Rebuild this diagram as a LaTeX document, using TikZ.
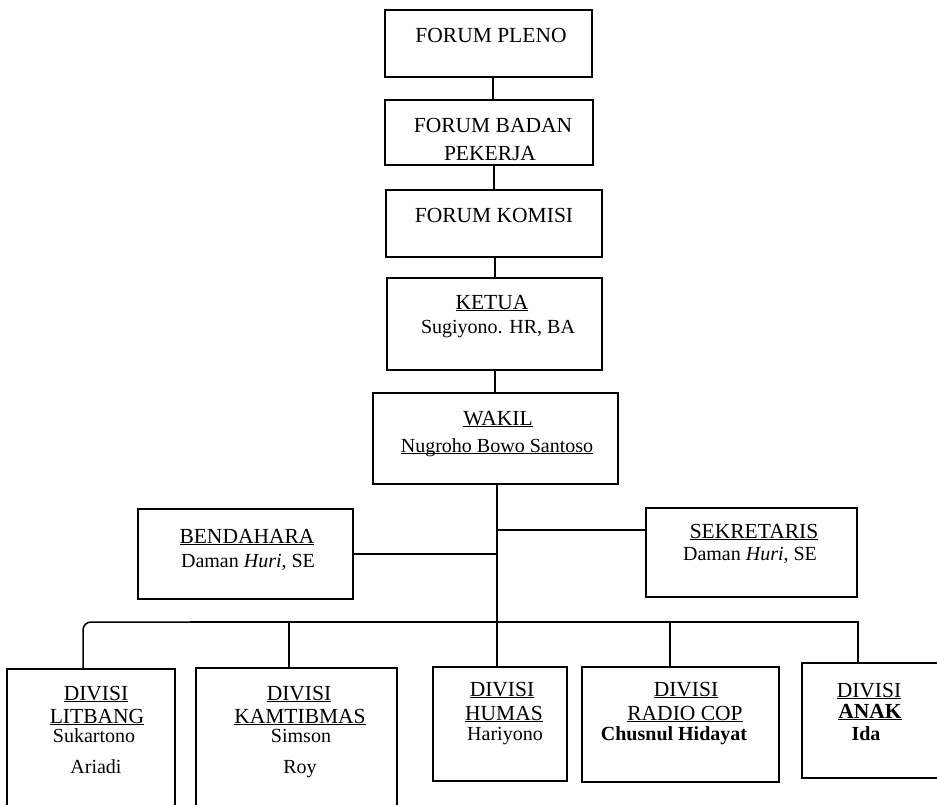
\documentclass[tikz,border=0pt]{standalone}
\usepackage{fontspec}
\setmainfont{Liberation Serif}
\newcommand\hdrf{\fontsize{21.5}{24}\selectfont}
\newcommand\namef{\fontsize{20}{22}\selectfont}
\newcommand\ulx[1]{\setbox0\hbox{#1}\rlap{\rule[-2.4pt]{\wd0}{1.2pt}}\box0}
\tikzset{
  box/.style={draw, line width=1.5pt, rectangle, inner sep=0pt},
  link/.style={line width=1.5pt},
  hd/.style={inner sep=0pt, anchor=base, font=\hdrf},
  nmt/.style={inner sep=0pt, anchor=base, font=\namef},
}
\begin{document}
\begin{tikzpicture}[x=1pt,y=-1pt]
\useasboundingbox[fill=white] (0,0) rectangle (937,804);
% boxes
\node[box, minimum width=207pt, minimum height=67pt] (pleno) at (488.5,43.5) {};
\node[box, minimum width=208pt, minimum height=65pt] (badan) at (489,132.5) {};
\node[box, minimum width=216pt, minimum height=67pt] (komisi) at (494,223.5) {};
\node[box, minimum width=215pt, minimum height=92pt] (ketua) at (494.5,324) {};
\node[box, minimum width=245pt, minimum height=91pt] (wakil) at (495.5,438.5) {};
\node[box, minimum width=215pt, minimum height=90pt] (bend) at (245.5,554) {};
\node[box, minimum width=211pt, minimum height=89pt] (sekr) at (751.5,552.5) {};
\node[box, minimum width=168pt, minimum height=150pt] (litbang) at (91,744) {};
\node[box, minimum width=201pt, minimum height=151pt] (kamt) at (296.5,743.5) {};
\node[box, minimum width=134pt, minimum height=114pt] (humas) at (500,724) {};
\node[box, minimum width=197pt, minimum height=115pt] (radio) at (680.5,724.5) {};
\node[box, minimum width=143pt, minimum height=115pt] (anak) at (873.5,720.5) {};
% texts
\node[hd] (t1) at (491,42) {FORUM PLENO};
\node[hd] (t2) at (493,132) {FORUM BADAN};
\node[hd] (t3) at (490,160) {PEKERJA};
\node[hd] (t4) at (494,222) {FORUM KOMISI};
\node[hd] (t5) at (492,309) {\ulx{KETUA}};
\node[nmt] (t6) at (498,333) {Sugiyono. HR, BA};
\node[hd] (t7) at (498,425) {\ulx{WAKIL}};
\node[nmt] (t8) at (497,452) {\ulx{Nugroho Bowo Santoso}};
\node[hd] (t9) at (247,543) {\ulx{BENDAHARA}};
\node[nmt] (t10) at (248,567) {Daman \textit{Huri}, SE};
\node[hd] (t11) at (754,538) {\ulx{SEKRETARIS}};
\node[nmt] (t12) at (750,560) {Daman \textit{Huri}, SE};
\node[hd] (t13) at (96,700) {\ulx{DIVISI}};
\node[hd] (t14) at (97,723) {\ulx{LITBANG}};
\node[nmt] (t15) at (94,742) {Sukartono};
\node[nmt] (t16) at (96,773) {Ariadi};
\node[hd] (t17) at (299,700) {\ulx{DIVISI}};
\node[hd] (t18) at (300,723) {\ulx{KAMTIBMAS}};
\node[nmt] (t19) at (301,742) {Simson};
\node[nmt] (t20) at (300,773) {Roy};
\node[hd] (t21) at (502,696) {\ulx{DIVISI}};
\node[hd] (t22) at (504,720) {\ulx{HUMAS}};
\node[nmt] (t23) at (505,740) {Hariyono};
\node[hd] (t24) at (686,696) {\ulx{DIVISI}};
\node[hd] (t25) at (685,720) {\ulx{RADIO COP}};
\node[nmt] (t26) at (674,740) {\textbf{Chusnul Hidayat}};
\node[hd] (t27) at (869,697) {\ulx{DIVISI}};
\node[hd] (t28) at (870,718) {\ulx{\textbf{ANAK}}};
\node[nmt] (t29) at (866,740) {\textbf{Ida}};
% connectors
\draw[link] (493,0 |- pleno.south) -- (493,0 |- badan.north);
\draw[link] (494,0 |- badan.south) -- (494,0 |- komisi.north);
\draw[link] (495,0 |- komisi.south) -- (495,0 |- ketua.north);
\draw[link] (495,0 |- ketua.south) -- (495,0 |- wakil.north);
\draw[link] (497,0 |- wakil.south) -- (497,0 |- humas.north);
\draw[link] (497,530) -- (sekr.west |- 0,530);
\draw[link] (bend.east |- 0,554) -- (497,554);
\draw[link, rounded corners=8pt] (83,0 |- litbang.north) -- (83,622) -- (200,622);
\draw[link] (190,622) -- (858,622) -- (858,0 |- anak.north);
\draw[link] (289,622) -- (289,0 |- kamt.north);
\draw[link] (670,622) -- (670,0 |- radio.north);
\end{tikzpicture}
\end{document}
